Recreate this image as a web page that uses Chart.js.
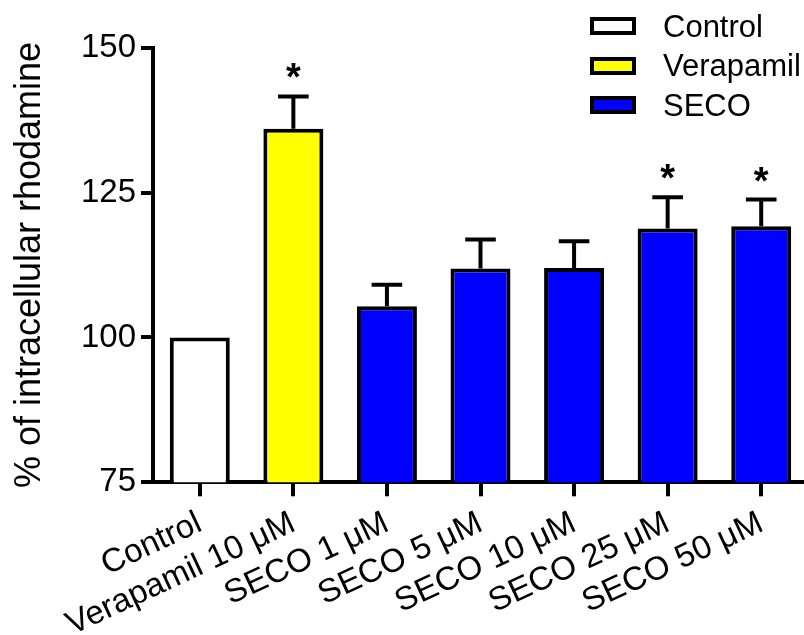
<!DOCTYPE html>
<html>
<head>
<meta charset="utf-8">
<script src="https://cdn.jsdelivr.net/npm/chart.js@4"></script>
<style>
	html, body { margin: 0; padding: 0; background: #fff; overflow: hidden; }
	#wrap { position: relative; width: 810px; height: 635px; }
	.legend { position: absolute; left: 590px; top: 6.5px; font-family: "Liberation Sans", Arial, sans-serif; font-size: 31px; color: #000; }
	.legend-item { display: flex; align-items: center; height: 39.6px; }
	.legend-box { width: 46px; height: 18px; box-sizing: border-box; border: 4px solid #000; margin-right: 27px; }
	.legend-label { line-height: 1; }
</style>
</head>
<body>
<div id="wrap">
	<canvas id="chart"></canvas>
	<div class="legend" id="legend"></div>
</div>
<script>
const categories = ["Control", "Verapamil 10 μM", "SECO 1 μM", "SECO 5 μM", "SECO 10 μM", "SECO 25 μM", "SECO 50 μM"];
const means = [100, 136.0, 105.4, 111.9, 112.0, 118.8, 119.2];
const sem = [0, 5.6, 3.7, 5.0, 4.6, 5.4, 4.6];
const significant = [false, true, false, false, false, true, true];
const barColors = ["#FFFFFF", "#FFFF00", "#0000FF", "#0000FF", "#0000FF", "#0000FF", "#0000FF"];
const legendLabels = ["Control", "Verapamil", "SECO"];
const legendColors = ["#FFFFFF", "#FFFF00", "#0000FF"];
const yTicks = [75, 100, 125, 150];

const FONT = "'Liberation Sans', Arial, sans-serif";
Chart.defaults.font.family = FONT;
Chart.defaults.color = "#000";

// legend (html, sits above the plot area)
const legendEl = document.getElementById("legend");
legendEl.innerHTML = legendLabels.map((name, i) => `
	<div class="legend-item">
		<span class="legend-box" style="background-color: ${legendColors[i]};"></span>
		<span class="legend-label">${name}</span>
	</div>
`).join("");

// error bars + significance stars
const errorBars = {
	id: "errorBars",
	afterDatasetsDraw(chart) {
		const ctx = chart.ctx;
		const y = chart.scales.y;
		const meta = chart.getDatasetMeta(0);
		ctx.save();
		ctx.strokeStyle = "#000";
		ctx.fillStyle = "#000";
		ctx.lineWidth = 4;
		ctx.lineCap = "butt";
		meta.data.forEach((bar, i) => {
			const top = y.getPixelForValue(means[i] + sem[i]);
			if (sem[i] > 0) {
				ctx.beginPath();
				ctx.moveTo(bar.x, bar.y);
				ctx.lineTo(bar.x, top);
				ctx.moveTo(bar.x - 15.3, top);
				ctx.lineTo(bar.x + 15.3, top);
				ctx.stroke();
			}
			if (significant[i]) {
				ctx.font = "bold 38px " + FONT;
				ctx.textAlign = "center";
				ctx.textBaseline = "alphabetic";
				ctx.fillText("*", bar.x, top - 6);
			}
		});
		ctx.restore();
	}
};

new Chart(document.getElementById("chart"), {
	type: "bar",
	data: {
		labels: categories,
		datasets: [{
			data: means,
			backgroundColor: barColors,
			borderColor: "#000",
			borderWidth: 4,
			borderSkipped: false,
			categoryPercentage: 1,
			barPercentage: 0.641
		}]
	},
	options: {
		responsive: true,
		maintainAspectRatio: false,
		animation: false,
		layout: { padding: { top: 47.7, right: 2, bottom: 0, left: 0 } },
		plugins: {
			legend: { display: false },
			tooltip: { enabled: false }
		},
		scales: {
			x: {
				afterFit(scale) { scale.height = 152.7; },
				grid: { display: true, drawOnChartArea: false, drawTicks: true, offset: false, tickLength: 14, lineWidth: 4, color: "#000" },
				border: { display: true, width: 4, color: "#000" },
				ticks: { autoSkip: false, minRotation: 25, maxRotation: 25, padding: 7.5, color: "#000", font: { size: 33, lineHeight: 1.2 } }
			},
			y: {
				min: 75,
				max: 150,
				afterFit(scale) { scale.width = 153; },
				afterBuildTicks(scale) { scale.ticks = yTicks.map(v => ({ value: v })); },
				grid: { display: true, drawOnChartArea: false, drawTicks: true, tickLength: 12, lineWidth: 4, color: "#000" },
				border: { display: true, width: 4, color: "#000" },
				ticks: { padding: 5, color: "#000", font: { size: 33 } },
				title: { display: true, text: "% of intracellular rhodamine", color: "#000", font: { size: 36, lineHeight: 1.2 }, padding: { top: 8, bottom: 0 } }
			}
		}
	},
	plugins: [errorBars]
});
</script>
</body>
</html>
